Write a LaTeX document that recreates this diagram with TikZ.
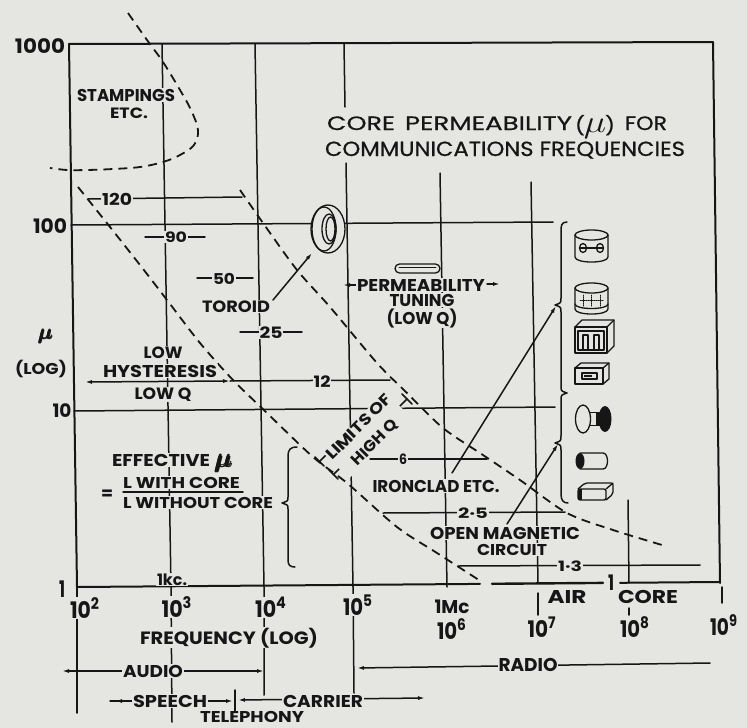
\documentclass[tikz,border=0pt]{standalone}
\usepackage{fontspec}
\setmainfont{Poppins}
\usepackage{graphicx}
\usepackage{amsmath}
\usepackage{bm}
\usetikzlibrary{arrows.meta}
\definecolor{bg}{RGB}{229,229,226}
\definecolor{ink}{RGB}{22,22,22}
\newcommand\T[3]{{\setbox0\hbox{#3}\setbox2\hbox{H}%
\pgfmathsetmacro\sx{#1/\the\wd0}\pgfmathsetmacro\sy{#2/\the\ht2}%
\scalebox{\sx}[\sy]{\box0}}}
\newcommand\Dec[1]{10\textsuperscript{#1}}
\newcommand\bmu{\pmb{$\bm{\mu}$}}
\begin{document}
\begin{tikzpicture}[x=1pt,y=-1pt,line cap=round,line join=round,
  ln/.style={ink,line width=1.5pt},
  fr/.style={ink,line width=2pt},
  dsh/.style={ink,line width=1.8pt,dash pattern=on 9pt off 6pt,line cap=butt},
  lab/.style={inner sep=0.6pt,fill=bg,text=ink,font=\bfseries,anchor=base},
  tit/.style={inner sep=0pt,text=ink,anchor=base,font=\addfontfeatures{FakeBold=0.6}},
  tip/.style={-{Latex[length=7pt,width=4pt]}},
  tips/.style={{Latex[length=7pt,width=4pt]}-{Latex[length=7pt,width=4pt]}},
  ic/.style={ink,line width=1.3pt},
  ]
\useasboundingbox (0,0) rectangle (747,728);
\fill[bg] (0,0) rectangle (747,728);
% frame
\draw[fr] (77,587) -- (69,44) -- (713,42) -- (720,583);
\draw[fr] (77,587) -- (480,583.9);
\draw[fr,line width=2.4pt] (492,583.8) -- (603,582.9);
\draw[fr] (620,582.8) -- (720,582);
% vertical grid
\draw[ln] (162,44) -- (171,587) -- (172,722);
\draw[ln] (255,44) -- (264,587) -- (264,695);
\draw[ln] (344,44) -- (345,107);
\draw[ln] (346,163) -- (353,587) -- (354,693);
\draw[ln] (440,173) -- (447,587);
\draw[ln] (531,182) -- (538,583);
\draw[ln] (628,500) -- (629,583);
\draw[ln] (77,587) -- (77,713);
\draw[ln] (538,593) -- (538,615);
\draw[ln] (629,608) -- (629,615);
\draw[ln] (722,587) -- (722,603);
% horizontal grid
\draw[ln] (71,225) -- (553,222);
\draw[ln] (74,411) -- (555,407);
% value lines
\draw[ln] (88,199) -- (242,197);
\draw[ln] (145,237) -- (205,237);
\draw[ln] (197,278) -- (253,278);
\draw[ln] (240,332) -- (302,332);
\draw[ln] (230,381) -- (390,380);
\draw[ln,tips] (85,382) -- (230,381);
\draw[ln] (370,459) -- (487,459);
\draw[ln] (383,513) -- (565,512);
\draw[ln] (458,566) -- (700,565);
% dashed limits
\draw[dsh] plot[smooth,tension=0.6] coordinates {(128,13) (147,40) (163,62) (180,90) (191,110) (198,130) (194,145) (180,155) (163,162) (140,167) (113,169) (87,170) (67,170) (50,168)};
\draw[dsh] plot[smooth] coordinates {(78,187) (110,227) (140,265) (167,300) (200,343) (233,380) (267,413) (313,457) (347,483) (397,527) (437,553) (482,582)};
\draw[dsh] plot[smooth] coordinates {(240,190) (263,223) (297,270) (330,307) (377,363) (407,393) (443,428) (483,455) (520,480) (567,513) (613,530) (662,545)};
% limits marks
\draw[ln] (402,394) -- (412,404);
\draw[ln] (399,407) -- (407,399);
\draw[ln] (315,457) -- (324,466);
\draw[ln] (319.5,461.5) -- (327,454);
\draw[ln] (329,470) -- (338,479);
\draw[ln] (333.5,474.5) -- (341,467);
% arrows
\draw[ln,tip] (273,300) -- (312,253);
\draw[ln,tip] (356,285) -- (343,285);
\draw[ln,tip] (487,284) -- (500,284);
\draw[ln,tip] (452,473) -- (556,306);
\draw[ln,tip] (507,524) -- (558,444);
\draw[ln,tips] (62,671) -- (264,671);
\draw[ln,tip] (110,701) -- (233,701);
\draw[ln,tip] (127,701) -- (115,701);
\draw[ln] (235,690) -- (235,711);
\draw[ln,tips] (238,700) -- (425,698);
\draw[ln,tip] (710,663) -- (357,668);
% fraction
\draw[ln] (123,492) -- (243,492);
% braces
\draw[ln] (297,447) .. controls (290,447) and (288,450) .. (288,456) -- (288,497) .. controls (288,501) .. (282,503) .. controls (288,505) .. (288,509) -- (288,560) .. controls (288,565) and (290,567) .. (295,567);
\draw[ln] (567,222) .. controls (561,222) and (561,226) .. (561,232) -- (561,298) .. controls (561,303) .. (555,305) .. controls (561,307) .. (561,312) -- (561,386) .. controls (561,391) .. (567,393) .. controls (561,395) .. (561,400) -- (561,436) .. controls (561,441) .. (555,443) .. controls (561,445) .. (561,450) -- (561,494) .. controls (561,500) and (563,503) .. (568,503);
% title
\node[tit] (t1) at (361,130) {\T{68}{13.5}{CORE}};
\node[tit] (t2) at (488.5,130) {\T{167}{13.5}{PERMEABILITY}};
\node[tit] (t3) at (595,132) {\resizebox{40pt}{17pt}{(\kern-.5pt\raisebox{-.5pt}{\LARGE$\mu$}\kern-.5pt)}};
\node[tit] (t4) at (646,130) {\T{42}{13.5}{FOR}};
\node[tit] (t5) at (505,156) {\T{360}{14.3}{COMMUNICATIONS FREQUENCIES}};
% labels
\node[lab] (st) at (126,101) {\T{98}{12}{STAMPINGS}};
\node[lab] (etc) at (129,118) {\T{38}{10.5}{ETC.}};
\node[lab] (v120) at (117,205) {\T{30}{11.5}{120}};
\node[lab] (v90) at (176,242) {\T{22}{10}{90}};
\node[lab] (v50) at (224,284) {\T{22}{10.5}{50}};
\node[lab] (tor) at (236,312) {\T{68}{11.5}{TOROID}};
\node[lab] (v25) at (271,338) {\T{23}{11}{25}};
\node[lab] (low) at (163,358) {\T{39}{11.5}{LOW}};
\node[lab] (hys) at (160,377) {\T{114}{12}{HYSTERESIS}};
\node[lab] (lowq) at (163,399) {\T{57}{11.5}{LOW Q}};
\node[lab] (v12) at (322,387) {\T{17}{11}{12}};
\node[lab] (mu) at (46,339) {\resizebox{15pt}{!}{\bmu}};
\node[lab] (log) at (41,374) {\T{52}{11}{(LOG)}};
\node[lab] (y1000) at (40,53) {\T{50}{14}{1000}};
\node[lab] (y100) at (50,233) {\T{34}{14}{100}};
\node[lab] (y10) at (62,417) {\T{19}{13}{10}};
\node[lab] (y1) at (62,597) {\T{6}{16}{1}};
\node[lab] (eff) at (161,466) {\T{98}{12}{EFFECTIVE}};
\node[lab] (effmu) at (224,467) {\resizebox{18pt}{!}{\bmu}};
\node[lab,anchor=center] (eq) at (107,495) {\resizebox{12pt}{!}{=}};
\node[lab] (lw) at (181.5,488) {\T{117}{11}{L WITH CORE}};
\node[lab] (lwo) at (198,508) {\T{150}{11}{L WITHOUT CORE}};
\node[lab] (perm) at (421,291) {\T{128}{12}{PERMEABILITY}};
\node[lab] (tun) at (422,306) {\T{65}{12}{TUNING}};
\node[lab] (lq) at (422,324) {\T{71}{12}{(LOW Q)}};
\node[lab,anchor=center,rotate=45,align=center,font=\bfseries\fontsize{10}{22}\selectfont] (lim) at (367,435) {\T{86}{11}{LIMITS OF}\\\T{58}{11}{HIGH Q}};
\node[lab] (v6) at (403,464) {\T{8}{10}{6}};
\node[lab] (iron) at (436,492) {\T{127}{12}{IRONCLAD ETC.}};
\node[lab] (v25b) at (473,518) {\T{30}{10}{2·5}};
\node[lab] (open) at (505,539) {\T{150}{12}{OPEN MAGNETIC}};
\node[lab] (circ) at (512,555) {\T{70}{11}{CIRCUIT}};
\node[lab] (v13) at (570,571) {\T{24}{10}{1·3}};
\node[lab] (v1) at (611,590) {\T{6}{15}{1}};
\node[lab] (air) at (567,603) {\T{39}{13}{AIR}};
\node[lab] (core) at (648,603) {\T{60}{13}{CORE}};
\node[lab] (kc) at (172,585) {\T{30}{11}{1kc.}};
\node[lab] (x2) at (85,618) {\T{30}{16}{\Dec{2}}};
\node[lab] (x3) at (177,617) {\T{31}{16}{\Dec{3}}};
\node[lab] (x4) at (271,617) {\T{32}{16}{\Dec{4}}};
\node[lab] (x5) at (358,615) {\T{30}{16}{\Dec{5}}};
\node[lab] (mc) at (452,613) {\T{35}{13}{1Mc}};
\node[lab] (x6) at (452,639) {\T{30}{16}{\Dec{6}}};
\node[lab] (x7) at (542,637) {\T{29}{16}{\Dec{7}}};
\node[lab] (x8) at (635,637) {\T{30}{16}{\Dec{8}}};
\node[lab] (x9) at (724,635) {\T{28}{16}{\Dec{9}}};
\node[lab] (freq) at (229,644) {\T{178}{12.5}{FREQUENCY (LOG)}};
\node[lab] (aud) at (153,677) {\T{60}{12}{AUDIO}};
\node[lab] (sp) at (170,707) {\T{74}{12}{SPEECH}};
\node[lab] (car) at (323,707) {\T{80}{12}{CARRIER}};
\node[lab] (tel) at (252,722.5) {\T{104}{11}{TELEPHONY}};
\node[lab] (rad) at (528,671) {\T{59}{13}{RADIO}};
% toroid
\filldraw[ic,fill=bg] (328,229) ellipse [x radius=17,y radius=24];
\draw[ic] (324,229) ellipse [x radius=12,y radius=22];
\draw[ic] (329,229) ellipse [x radius=7,y radius=15];
\draw[ic] (330.5,229) ellipse [x radius=4.5,y radius=12];
% rod
\draw[ic,rounded corners=4.5pt] (395,264) rectangle (440,273);
\draw[ink,line width=0.8pt] (399,267) -- (436,267);
% icons
\draw[ic] (575,235) -- (575,257) .. controls (575,263.7) and (608,263.7) .. (608,257) -- (608,235);
\draw[ic] (591.5,235) ellipse [x radius=16.5,y radius=5];
\draw[ic] (583,248) ellipse [x radius=3.5,y radius=4.5];
\draw[ic] (600,248) ellipse [x radius=3.5,y radius=4.5];
\draw[ic] (579.5,248) -- (603.5,248);
\draw[ic] (575,288) -- (575,309) .. controls (575,315.7) and (608,315.7) .. (608,309) -- (608,288);
\draw[ic] (591.5,288) ellipse [x radius=16.5,y radius=5];
\draw[ic] (575,304) .. controls (575,310) and (608,310) .. (608,304);
\draw[ink,densely dotted,line width=1pt] (583,295) -- (583,306) (591.5,295) -- (591.5,307) (600,295) -- (600,306) (580,300) -- (603,300);
\draw[ic] (575,327) rectangle (607,353);
\draw[ic] (575,327) -- (582,320) -- (614,320) -- (614,346) -- (607,353);
\draw[ic] (607,327) -- (614,320);
\draw[ic,line width=1.8pt] (578,331) rectangle (604,350);
\draw[ic] (583,350) -- (583,335) -- (588,335) -- (588,350);
\draw[ic] (594,350) -- (594,335) -- (599,335) -- (599,350);
\draw[ic] (575,368) rectangle (603,384);
\draw[ic] (575,368) -- (581,363) -- (609,363) -- (609,379) -- (603,384);
\draw[ic] (603,368) -- (609,363);
\draw[ic] (582,373) rectangle (597,379);
\fill[ink] (584,375) rectangle (592,377);
\draw[ic] (588,412.5) -- (602,412.5);
\draw[ic] (588,425.5) -- (602,425.5);
\fill[ink] (596,412.5) rectangle (602,425.5);
\filldraw[ic,fill=bg] (583,419) ellipse [x radius=7.5,y radius=14];
\fill[ink] (605,419) ellipse [x radius=6.5,y radius=13];
\fill[ink] (580,461) ellipse [x radius=4.5,y radius=8];
\draw[ic] (580,453) -- (603,453) .. controls (609,453) and (609,469) .. (603,469) -- (580,469);
\draw[ic,rounded corners=2pt] (578,489) -- (606,489) -- (606,500) -- (578,500) -- cycle;
\draw[ic,rounded corners=2pt] (578,489) -- (585,483) -- (613,483) -- (613,494) -- (606,500);
\draw[ic] (606,489) -- (613,483);
\fill[ink] (578,489) rectangle (582,500);
\end{tikzpicture}
\end{document}
